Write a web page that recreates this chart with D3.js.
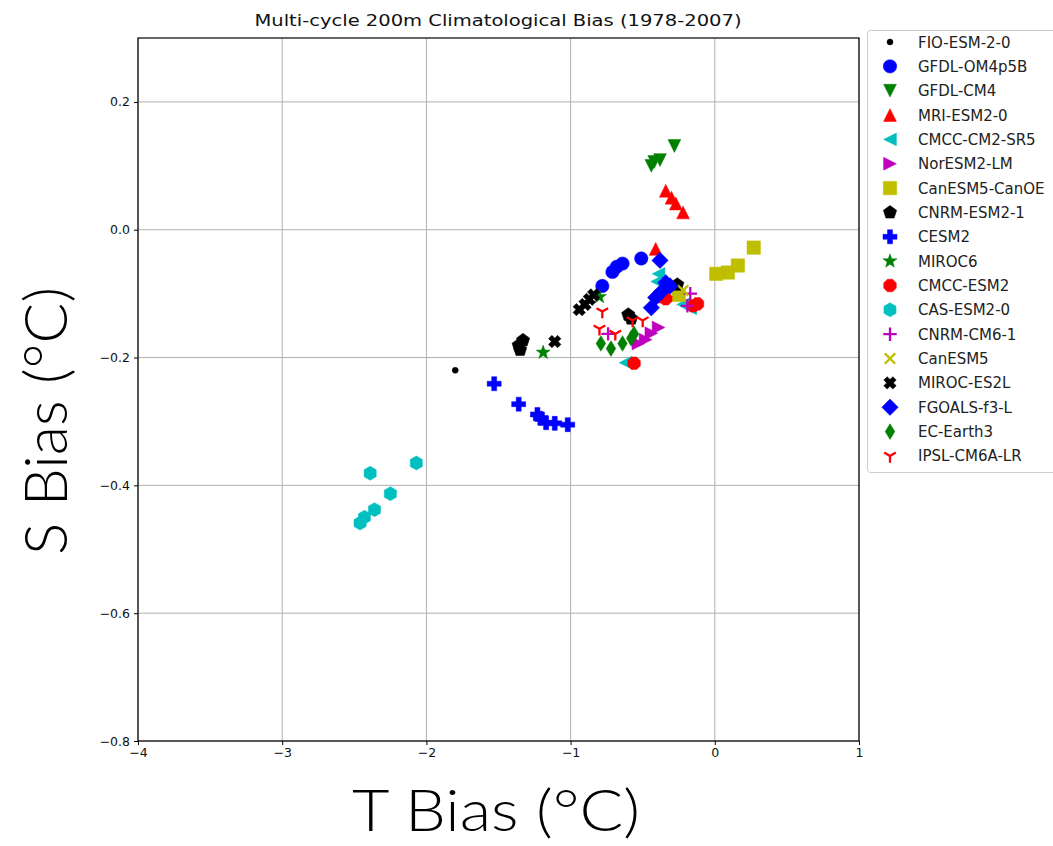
<!DOCTYPE html>
<html>
<head>
<meta charset="utf-8">
<script src="https://cdn.jsdelivr.net/npm/d3@7"></script>
<style>
  html, body { margin: 0; padding: 0; background: #fff; }
  svg { display: block; }
</style>
</head>
<body>
<svg id="chart" width="1053" height="846"></svg>
<script>
// Model names, in legend order
const models = [
  "FIO-ESM-2-0", "GFDL-OM4p5B", "GFDL-CM4", "MRI-ESM2-0", "CMCC-CM2-SR5",
  "NorESM2-LM", "CanESM5-CanOE", "CNRM-ESM2-1", "CESM2", "MIROC6",
  "CMCC-ESM2", "CAS-ESM2-0", "CNRM-CM6-1", "CanESM5", "MIROC-ES2L",
  "FGOALS-f3-L", "EC-Earth3", "IPSL-CM6A-LR"
];

// Marker code for each model (matplotlib-style)
const markers = [".", "o", "v", "^", "<", ">", "s", "p", "P", "*", "8", "h", "+", "x", "X", "D", "d", "1"];

// Colour for each model
const colors = [
  "#000000", "#0000ff", "#008000", "#ff0000", "#00bfbf", "#bf00bf",
  "#bfbf00", "#000000", "#0000ff", "#008000", "#ff0000", "#00bfbf",
  "#bf00bf", "#bfbf00", "#000000", "#0000ff", "#008000", "#ff0000"
];

// Temperature bias (°C), one list per model (one value per cycle)
const tBias = [
  [-1.80],
  [-0.78, -0.71, -0.68, -0.64, -0.51],
  [-0.28, -0.38, -0.42, -0.44],
  [-0.34, -0.30, -0.27, -0.22, -0.41],
  [-0.39, -0.40, -0.62, -0.22, -0.17],
  [-0.39, -0.44, -0.48, -0.53],
  [0.27, 0.16, 0.09, 0.01, -0.25],
  [-1.36, -1.33, -1.35, -0.60, -0.58, -0.26],
  [-1.53, -1.36, -1.23, -1.21, -1.17, -1.11, -1.02],
  [-1.19, -0.80],
  [-0.56, -0.34, -0.15, -0.12, -0.37],
  [-2.07, -2.39, -2.25, -2.36, -2.43, -2.46],
  [-0.17, -0.19, -0.74],
  [-0.22],
  [-0.94, -0.90, -0.87, -0.84, -1.11],
  [-0.38, -0.34, -0.31, -0.37, -0.41, -0.44],
  [-0.79, -0.72, -0.64, -0.58, -0.56],
  [-0.78, -0.80, -0.57, -0.50, -0.69]
];

// Salinity bias, one list per model, paired with tBias
const sBias = [
  [-0.220],
  [-0.088, -0.066, -0.058, -0.053, -0.045],
  [0.131, 0.109, 0.106, 0.100],
  [0.061, 0.050, 0.041, 0.027, -0.030],
  [-0.069, -0.081, -0.208, -0.117, -0.123],
  [-0.153, -0.162, -0.172, -0.178],
  [-0.028, -0.056, -0.067, -0.069, -0.102],
  [-0.181, -0.173, -0.188, -0.133, -0.139, -0.086],
  [-0.241, -0.273, -0.289, -0.295, -0.302, -0.303, -0.305],
  [-0.192, -0.105],
  [-0.209, -0.108, -0.119, -0.116, -0.105],
  [-0.365, -0.381, -0.413, -0.438, -0.450, -0.459],
  [-0.100, -0.119, -0.163],
  [-0.095],
  [-0.125, -0.117, -0.109, -0.102, -0.175],
  [-0.048, -0.083, -0.088, -0.097, -0.106, -0.122],
  [-0.178, -0.186, -0.178, -0.170, -0.163],
  [-0.128, -0.155, -0.142, -0.142, -0.163]
];

const xTicks = [-4, -3, -2, -1, 0, 1];
const yTicks = [-0.8, -0.6, -0.4, -0.2, 0.0, 0.2];

const titleText = "Multi-cycle 200m Climatological Bias (1978-2007)";
const xLabel = "T Bias (°C)";
const yLabel = "S Bias (°C)";

// ---- layout ----
const svg = d3.select("#chart");
const plot = { left: 138, right: 859, top: 38, bottom: 741 };

const x = d3.scaleLinear().domain([-4, 1]).range([plot.left, plot.right]);
const y = d3.scaleLinear().domain([-0.8, 0.3]).range([plot.bottom, plot.top]);

// ---- marker shapes, centred on 0,0 ----
function poly(pts) { return "M" + pts.map(p => p[0].toFixed(2) + "," + p[1].toFixed(2)).join("L") + "Z"; }
function regular(n, r, rot) {
  const pts = [];
  for (let i = 0; i < n; i++) {
    const a = rot + i * 2 * Math.PI / n;
    pts.push([r * Math.sin(a), -r * Math.cos(a)]);
  }
  return poly(pts);
}
function circle(r) { return `M${-r},0A${r},${r} 0 1,0 ${r},0A${r},${r} 0 1,0 ${-r},0Z`; }

function markerSpec(m) {
  const r = 6.4;
  switch (m) {
    case ".": return { d: circle(3), filled: true };
    case "o": return { d: circle(6.7), filled: true };
    case "v": return { d: poly([[-r, -r], [r, -r], [0, r]]), filled: true };
    case "^": return { d: poly([[-r, r], [r, r], [0, -r]]), filled: true };
    case "<": return { d: poly([[r, -r], [r, r], [-r, 0]]), filled: true };
    case ">": return { d: poly([[-r, -r], [-r, r], [r, 0]]), filled: true };
    case "s": return { d: poly([[-6.7, -6.7], [6.7, -6.7], [6.7, 6.7], [-6.7, 6.7]]), filled: true };
    case "p": return { d: regular(5, 7, 0), filled: true };
    case "P": {
      const a = 7, b = 2.5;
      return { d: poly([[-b, -a], [b, -a], [b, -b], [a, -b], [a, b], [b, b], [b, a], [-b, a], [-b, b], [-a, b], [-a, -b], [-b, -b]]), filled: true };
    }
    case "*": {
      const pts = [];
      for (let i = 0; i < 10; i++) {
        const rr = i % 2 === 0 ? 7.4 : 3.0;
        const a = i * Math.PI / 5;
        pts.push([rr * Math.sin(a), -rr * Math.cos(a)]);
      }
      return { d: poly(pts), filled: true };
    }
    case "8": return { d: regular(8, 6.8, Math.PI / 8), filled: true };
    case "h": return { d: regular(6, 7, 0), filled: true };
    case "+": return { d: "M-6.7,0L6.7,0M0,-6.7L0,6.7", filled: false };
    case "x": return { d: "M-5.2,-5.2L5.2,5.2M-5.2,5.2L5.2,-5.2", filled: false };
    case "X": {
      const a = 6.4, b = 2.4;
      const base = [[-b, -a], [b, -a], [b, -b], [a, -b], [a, b], [b, b], [b, a], [-b, a], [-b, b], [-a, b], [-a, -b], [-b, -b]];
      const c = Math.SQRT1_2;
      return { d: poly(base.map(p => [c * (p[0] - p[1]), c * (p[0] + p[1])])), filled: true };
    }
    case "D": return { d: poly([[0, -8.2], [8.2, 0], [0, 8.2], [-8.2, 0]]), filled: true };
    case "d": return { d: poly([[0, -7.8], [4.8, 0], [0, 7.8], [-4.8, 0]]), filled: true };
    case "1": return { d: "M0,0L0,6.7M0,0L-5.8,-3.35M0,0L5.8,-3.35", filled: false };
  }
}

function drawMarker(g, m, color) {
  const spec = markerSpec(m);
  g.append("path")
    .attr("d", spec.d)
    .attr("fill", spec.filled ? color : "none")
    .attr("stroke", color)
    .attr("stroke-width", spec.filled ? 0.5 : 2.3)
    .attr("stroke-linecap", "butt");
}

// ---- grid ----
const grid = svg.append("g").attr("class", "grid");
grid.selectAll("line.gx").data(xTicks).join("line")
  .attr("x1", d => x(d)).attr("x2", d => x(d))
  .attr("y1", plot.top).attr("y2", plot.bottom)
  .attr("stroke", "#b0b0b0").attr("stroke-width", 1);
grid.selectAll("line.gy").data(yTicks).join("line")
  .attr("x1", plot.left).attr("x2", plot.right)
  .attr("y1", d => y(d)).attr("y2", d => y(d))
  .attr("stroke", "#b0b0b0").attr("stroke-width", 1);

// ---- points ----
const pts = svg.append("g").attr("class", "points");
models.forEach((name, i) => {
  tBias[i].forEach((t, j) => {
    const g = pts.append("g").attr("transform", `translate(${x(t)},${y(sBias[i][j])})`);
    drawMarker(g, markers[i], colors[i]);
  });
});

// ---- axes ----
const fmtY = d => (d < 0 ? "\u2212" : "") + Math.abs(d).toFixed(1);
const fmtX = d => (d < 0 ? "\u2212" : "") + Math.abs(d);

const xAxis = svg.append("g")
  .attr("transform", `translate(0,${plot.bottom})`)
  .call(d3.axisBottom(x).tickValues(xTicks).tickFormat(fmtX).tickSize(4).tickPadding(3));
const yAxis = svg.append("g")
  .attr("transform", `translate(${plot.left},0)`)
  .call(d3.axisLeft(y).tickValues(yTicks).tickFormat(fmtY).tickSize(4).tickPadding(4));
[xAxis, yAxis].forEach(a => {
  a.select(".domain").remove();
  a.selectAll("text").attr("font-family", "DejaVu Sans").attr("font-size", 12.5).attr("fill", "#111");
  a.selectAll("line").attr("stroke", "#000");
});

// frame
svg.append("rect")
  .attr("x", plot.left).attr("y", plot.top)
  .attr("width", plot.right - plot.left).attr("height", plot.bottom - plot.top)
  .attr("fill", "none").attr("stroke", "#000").attr("stroke-width", 1.2);

// ---- titles ----
svg.append("text")
  .attr("x", 498).attr("y", 26)
  .attr("text-anchor", "middle")
  .attr("font-family", "DejaVu Sans").attr("font-size", 16).attr("fill", "#111")
  .attr("textLength", 487).attr("lengthAdjust", "spacingAndGlyphs")
  .text(titleText);

svg.append("text")
  .attr("x", 496).attr("y", 831)
  .attr("text-anchor", "middle")
  .attr("font-family", "Lato").attr("font-weight", 300).attr("font-size", 58)
  .attr("textLength", 288).attr("lengthAdjust", "spacingAndGlyphs")
  .text(xLabel);

svg.append("text")
  .attr("transform", "translate(67,421) rotate(-90)")
  .attr("text-anchor", "middle")
  .attr("font-family", "Lato").attr("font-weight", 300).attr("font-size", 60)
  .attr("textLength", 268).attr("lengthAdjust", "spacingAndGlyphs")
  .text(yLabel);

// ---- legend ----
const legend = svg.append("g").attr("transform", "translate(867,30)");
legend.append("rect")
  .attr("x", 0.5).attr("y", 0.5).attr("width", 200).attr("height", 442)
  .attr("rx", 3).attr("fill", "#fff").attr("stroke", "#cccccc").attr("stroke-width", 1);
models.forEach((name, i) => {
  const row = legend.append("g").attr("transform", `translate(0,${12 + i * 24.35})`);
  const mg = row.append("g").attr("transform", "translate(23,0)");
  drawMarker(mg, markers[i], colors[i]);
  row.append("text")
    .attr("x", 51).attr("y", 5.5)
    .attr("font-family", "DejaVu Sans").attr("font-size", 15).attr("fill", "#222")
    .text(name);
});
</script>
</body>
</html>
